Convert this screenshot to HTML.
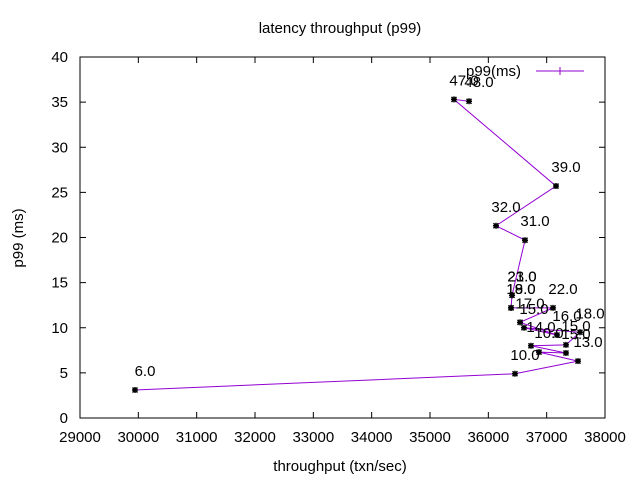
<!DOCTYPE html>
<html><head><meta charset="utf-8"><style>
body{margin:0;background:#fff}
svg{display:block;font-family:"Liberation Sans",sans-serif}
</style></head><body>
<svg id="chart" width="640" height="480">
<rect width="640" height="480" fill="#fff"/>
<text x="340" y="33" font-size="15" text-anchor="middle">latency throughput (p99)</text>
<text x="340" y="471" font-size="15" text-anchor="middle">throughput (txn/sec)</text>
<text x="23" y="238" font-size="15" text-anchor="middle" transform="rotate(-90 23 238)">p99 (ms)</text>
<g id="axes"></g>
<g id="marks"></g>
<g>
<text x="521" y="76" font-size="15" text-anchor="end">p99(ms)</text>
<line x1="536" y1="71" x2="584" y2="71" stroke="#9400d3" stroke-width="1"/>
<line x1="560" y1="67" x2="560" y2="75" stroke="#9400d3"/>
</g>
</svg>
<script>
const xs=[29943,36457,37537,36869,37331,36731,37331,37571,36611,37177,36543,37109,36389,36389,36406,36406,36629,36131,37160,35411,35669];
const ys=[3.1,4.9,6.3,7.3,7.2,8.0,8.1,9.5,10.0,9.2,10.6,12.2,12.2,12.2,13.6,13.6,19.7,21.3,25.7,35.3,35.1];
const labels=["6.0","10.0","13.0","10.0","15.0","14.0","15.0","18.0","15.0","16.0","17.0","22.0","18.0","19.0","21.0","23.0","31.0","32.0","39.0","47.0","48.0"];
const xTicks=[29000,30000,31000,32000,33000,34000,35000,36000,37000,38000];
const yTicks=[0,5,10,15,20,25,30,35,40];
const L=80,R=605,T=57,B=418;
const sx=v=>L+(v-29000)/9000*(R-L);
const sy=v=>B-v/40*(B-T);
const NS="http://www.w3.org/2000/svg";
function mk(t,a,p){const e=document.createElementNS(NS,t);for(const k in a)e.setAttribute(k,a[k]);p.appendChild(e);return e;}
const ax=document.getElementById('axes'),mg=document.getElementById('marks');
const frame=mk('rect',{x:L,y:T,width:R-L,height:B-T,fill:'none',stroke:'#000'},ax);


xTicks.forEach(v=>{const x=sx(v);
 const t1=mk('line',{x1:x,y1:B,x2:x,y2:B-6,stroke:'#000'},ax);
 
 const t2=mk('line',{x1:x,y1:T,x2:x,y2:T+6,stroke:'#000'},ax);
 
 const tx=mk('text',{x:x,y:B+24,'font-size':15,'text-anchor':'middle'},ax);tx.textContent=v;
 });
yTicks.forEach(v=>{const y=sy(v);
 const t1=mk('line',{x1:L,y1:y,x2:L+6,y2:y,stroke:'#000'},ax);
 
 const t2=mk('line',{x1:R,y1:y,x2:R-6,y2:y,stroke:'#000'},ax);
 
 const tx=mk('text',{x:L-12,y:y+5,'font-size':15,'text-anchor':'end'},ax);tx.textContent=v;
 });
const line=mk('polyline',{points:xs.map((v,i)=>sx(v)+','+sy(ys[i])).join(' '),fill:'none',stroke:'#9400d3','stroke-width':1},mg);


xs.forEach((v,i)=>{const x=sx(v),y=sy(ys[i]);
 const p=mk('path',{d:`M${x-3},${y}h6M${x},${y-3}v6M${x-2.5},${y-2.5}l5,5M${x-2.5},${y+2.5}l5,-5`,stroke:'#000','stroke-width':1.5},mg);
 
 const t=mk('text',{x:x+10,y:y-14,'font-size':15,'text-anchor':'middle'},mg);t.textContent=labels[i];
 });
</script>
</body></html>
